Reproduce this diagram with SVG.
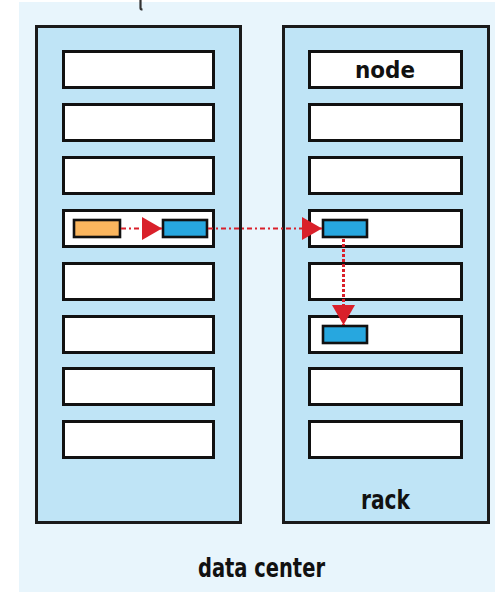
<svg xmlns="http://www.w3.org/2000/svg" width="495" height="592" viewBox="0 0 495 592">
  <style>
    .bg { fill: #e8f5fc; }
    .rack { fill: #bfe4f6; stroke: #1a1a1a; stroke-width: 3; }
    .node { fill: #ffffff; stroke: #111111; stroke-width: 3; }
    .task { stroke: #111111; stroke-width: 2.6; }
    .src { fill: #fbb65e; }
    .dst { fill: #27a7df; }
    .label { font-family: "DejaVu Sans Condensed", "DejaVu Sans", sans-serif; font-weight: bold; fill: #111111; text-anchor: middle; }
    .flow { fill: none; stroke: #d9202a; stroke-width: 2; stroke-dasharray: 5 3 2 3; }
    .flow-v { fill: none; stroke: #d9202a; stroke-width: 3; stroke-dasharray: 3 2; }
  </style>
  <defs>
    <marker id="head" markerUnits="userSpaceOnUse" markerWidth="22" markerHeight="24" refX="20" refY="11.5" orient="auto" viewBox="0 0 22 24">
      <path d="M0,0 L20,11.5 L0,23 Z" fill="#d9202a"/>
    </marker>
  </defs>

  <!-- data center area -->
  <rect class="bg" x="19" y="2" width="476" height="590"/>
  <path d="M140.5,0 L140.5,8 Q140.5,9.5 142.5,9.5" fill="none" stroke="#333333" stroke-width="2.2"/>

  <!-- left rack -->
  <g id="rack-left">
    <rect class="rack" x="36.5" y="26.5" width="204" height="496"/>
    <rect class="node" x="63.5" y="51.5" width="150" height="36"/>
    <rect class="node" x="63.5" y="104.5" width="150" height="36"/>
    <rect class="node" x="63.5" y="157.5" width="150" height="36"/>
    <rect class="node" x="63.5" y="210.5" width="150" height="36"/>
    <rect class="node" x="63.5" y="263.5" width="150" height="36"/>
    <rect class="node" x="63.5" y="316.5" width="150" height="36"/>
    <rect class="node" x="63.5" y="368.5" width="150" height="36"/>
    <rect class="node" x="63.5" y="421.5" width="150" height="36"/>
  </g>

  <!-- right rack -->
  <g id="rack-right">
    <rect class="rack" x="283.5" y="26.5" width="205" height="496"/>
    <rect class="node" x="309.5" y="51.5" width="152" height="36"/>
    <rect class="node" x="309.5" y="104.5" width="152" height="36"/>
    <rect class="node" x="309.5" y="157.5" width="152" height="36"/>
    <rect class="node" x="309.5" y="210.5" width="152" height="36"/>
    <rect class="node" x="309.5" y="263.5" width="152" height="36"/>
    <rect class="node" x="309.5" y="316.5" width="152" height="36"/>
    <rect class="node" x="309.5" y="368.5" width="152" height="36"/>
    <rect class="node" x="309.5" y="421.5" width="152" height="36"/>
    <text class="label" x="385" y="78" font-size="23" textLength="60" lengthAdjust="spacingAndGlyphs">node</text>
    <text class="label" x="385.5" y="509" font-size="27" textLength="49" lengthAdjust="spacingAndGlyphs">rack</text>
  </g>

  <!-- data blocks -->
  <g id="block-src">
    <rect class="task src" x="74" y="220" width="46" height="17"/>
  </g>
  <g id="block-copy-1">
    <rect class="task dst" x="163" y="220" width="44" height="17"/>
  </g>
  <g id="block-copy-2">
    <rect class="task dst" x="323" y="220" width="44" height="17"/>
  </g>
  <g id="block-copy-3">
    <rect class="task dst" x="323" y="326" width="44" height="17"/>
  </g>

  <!-- replication pipeline -->
  <g id="connectors">
    <line class="flow" x1="121" y1="228.5" x2="162" y2="228.5" marker-end="url(#head)"/>
    <line class="flow" x1="208" y1="228.5" x2="322" y2="228.5" marker-end="url(#head)"/>
    <line class="flow-v" x1="343.5" y1="239" x2="343.5" y2="325" marker-end="url(#head)"/>
  </g>

  <text class="label" x="261.5" y="577" font-size="26" textLength="127" lengthAdjust="spacingAndGlyphs">data center</text>
</svg>
